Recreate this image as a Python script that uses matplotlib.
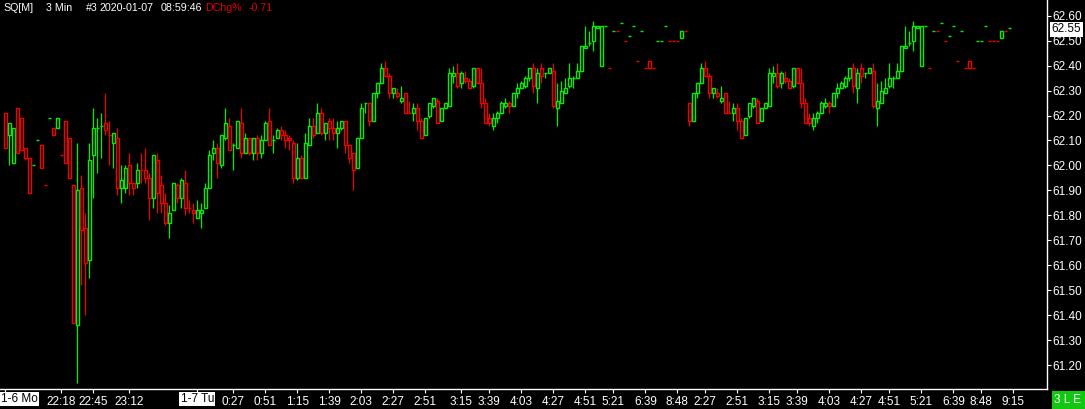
import matplotlib.pyplot as plt
from matplotlib.patches import Rectangle
from matplotlib.transforms import blended_transform_factory

plt.rcParams['font.family'] = ['Liberation Sans', 'DejaVu Sans']

# 3 min bars, (open, high, low, close)
part_one = [
    (62.21, 62.21, 62.07, 62.07), (62.12, 62.17, 62.00, 62.17), (62.01, 62.15, 62.01, 62.15),
    (62.23, 62.23, 62.05, 62.05), (62.19, 62.19, 62.06, 62.06), (62.07, 62.07, 62.02, 62.03),
    (62.03, 62.03, 61.89, 61.89), (62.00, 62.00, 62.00, 62.00), (62.10, 62.10, 62.10, 62.10),
    (62.08, 62.08, 61.99, 61.99), (61.92, 61.92, 61.92, 61.92), (62.19, 62.19, 62.19, 62.19),
    (62.15, 62.15, 62.12, 62.12), (62.15, 62.19, 62.15, 62.19), (62.04, 62.04, 62.04, 62.04),
    (62.18, 62.18, 62.01, 62.01), (62.11, 62.11, 61.95, 61.95), (61.92, 61.92, 61.37, 61.37),
    (61.36, 62.09, 61.13, 61.90), (61.91, 61.96, 61.52, 61.74), (61.75, 61.81, 61.40, 61.61),
    (61.62, 62.09, 61.55, 62.02), (62.04, 62.23, 61.87, 62.15), (62.15, 62.19, 61.97, 62.15),
    (62.16, 62.21, 62.03, 62.16), (62.17, 62.29, 62.12, 62.14), (62.12, 62.18, 62.00, 62.12),
    (62.09, 62.13, 61.99, 62.13), (62.11, 62.15, 61.88, 61.91), (61.91, 62.00, 61.85, 61.94),
    (61.91, 62.00, 61.89, 61.99), (62.00, 62.05, 61.88, 61.93), (61.93, 61.93, 61.88, 61.91),
    (61.93, 62.01, 61.91, 61.98), (61.98, 62.05, 61.93, 61.98), (61.98, 62.07, 61.93, 61.95),
    (61.95, 61.97, 61.78, 61.87), (61.87, 62.04, 61.83, 62.04), (62.02, 62.05, 61.81, 61.89),
    (61.92, 61.96, 61.81, 61.85), (61.85, 61.89, 61.76, 61.77), (61.77, 61.84, 61.71, 61.81),
    (61.82, 61.93, 61.82, 61.93), (61.92, 61.93, 61.85, 61.87), (61.87, 61.95, 61.83, 61.94),
    (61.93, 61.98, 61.80, 61.83), (61.83, 61.86, 61.81, 61.83), (61.82, 61.85, 61.77, 61.81),
    (61.79, 61.86, 61.79, 61.82), (61.81, 61.85, 61.75, 61.82), (61.83, 61.93, 61.83, 61.91),
    (61.91, 62.06, 61.91, 62.04), (62.05, 62.10, 62.02, 62.07), (62.07, 62.09, 61.95, 62.01),
    (62.00, 62.12, 61.99, 62.12), (62.11, 62.23, 62.10, 62.17), (62.16, 62.19, 62.06, 62.06),
    (62.08, 62.09, 61.98, 62.08), (62.07, 62.18, 62.07, 62.18), (62.17, 62.23, 62.03, 62.05),
    (62.05, 62.13, 62.05, 62.11), (62.11, 62.11, 62.04, 62.05), (62.05, 62.11, 62.02, 62.11),
    (62.11, 62.12, 62.02, 62.05), (62.05, 62.12, 62.03, 62.10), (62.10, 62.18, 62.10, 62.17),
    (62.18, 62.23, 62.08, 62.08), (62.10, 62.12, 62.05, 62.10), (62.11, 62.15, 62.11, 62.14),
    (62.14, 62.16, 62.10, 62.12), (62.12, 62.14, 62.07, 62.10), (62.11, 62.12, 62.06, 62.10),
    (62.09, 62.10, 61.93, 61.95), (61.95, 62.09, 61.94, 62.03), (62.03, 62.04, 61.95, 61.95),
    (61.95, 62.13, 61.95, 62.09), (62.08, 62.19, 62.08, 62.16), (62.16, 62.19, 62.11, 62.12),
    (62.13, 62.25, 62.13, 62.21), (62.21, 62.23, 62.12, 62.13), (62.13, 62.17, 62.10, 62.17),
    (62.18, 62.19, 62.10, 62.15), (62.15, 62.19, 62.10, 62.13), (62.13, 62.18, 62.07, 62.15),
    (62.15, 62.18, 62.14, 62.18), (62.18, 62.18, 62.05, 62.08), (62.08, 62.08, 62.01, 62.03),
    (62.05, 62.05, 61.90, 61.98), (61.99, 62.11, 61.99, 62.11), (62.11, 62.25, 62.11, 62.23),
    (62.25, 62.25, 62.21, 62.25),
]
part_one_colors = ("rggrrrrggr" "rgrgrrrrgr" "rggggrrgrg" "grrgrrrgrr" "rggrgrrrgg"
                   "gggrggrggr" "grgrggrggr" "rrrgrggrgr" "grrggrrrggg")

# this stretch shows up twice on the chart (the feed repeated it)
repeated = [
    (62.25, 62.25, 62.16, 62.18), (62.18, 62.29, 62.18, 62.29), (62.29, 62.33, 62.27, 62.33),
    (62.33, 62.41, 62.33, 62.39), (62.39, 62.42, 62.36, 62.36), (62.36, 62.37, 62.27, 62.29),
    (62.29, 62.31, 62.27, 62.31), (62.29, 62.31, 62.27, 62.28), (62.26, 62.32, 62.25, 62.27),
    (62.29, 62.29, 62.21, 62.21), (62.21, 62.26, 62.21, 62.21), (62.21, 62.25, 62.18, 62.23),
    (62.23, 62.25, 62.14, 62.18), (62.18, 62.19, 62.11, 62.11), (62.12, 62.19, 62.12, 62.19),
    (62.20, 62.25, 62.19, 62.25), (62.24, 62.27, 62.23, 62.27), (62.26, 62.27, 62.17, 62.17),
    (62.18, 62.23, 62.18, 62.23), (62.23, 62.25, 62.23, 62.25), (62.24, 62.39, 62.24, 62.37),
    (62.36, 62.40, 62.33, 62.37), (62.37, 62.41, 62.31, 62.32), (62.33, 62.38, 62.31, 62.37),
    (62.35, 62.38, 62.33, 62.34), (62.34, 62.35, 62.31, 62.31), (62.32, 62.39, 62.31, 62.39),
    (62.39, 62.39, 62.33, 62.33), (62.33, 62.39, 62.23, 62.25), (62.25, 62.27, 62.17, 62.17),
    (62.19, 62.21, 62.16, 62.17), (62.16, 62.21, 62.14, 62.19), (62.19, 62.22, 62.17, 62.21),
    (62.21, 62.26, 62.21, 62.25), (62.24, 62.27, 62.23, 62.25), (62.25, 62.26, 62.21, 62.24),
    (62.24, 62.29, 62.24, 62.29), (62.29, 62.33, 62.27, 62.31), (62.31, 62.34, 62.31, 62.33),
    (62.32, 62.36, 62.31, 62.35), (62.35, 62.39, 62.34, 62.39), (62.39, 62.41, 62.29, 62.32),
    (62.31, 62.39, 62.25, 62.37), (62.39, 62.41, 62.33, 62.36), (62.37, 62.37, 62.35, 62.37),
    (62.37, 62.39, 62.37, 62.39), (62.38, 62.41, 62.23, 62.24), (62.23, 62.33, 62.16, 62.26),
    (62.25, 62.34, 62.25, 62.30), (62.29, 62.35, 62.29, 62.31), (62.32, 62.41, 62.31, 62.35),
    (62.35, 62.36, 62.31, 62.35), (62.35, 62.41, 62.35, 62.38), (62.38, 62.48, 62.38, 62.48),
    (62.47, 62.56, 62.47, 62.48), (62.49, 62.54, 62.48, 62.49), (62.50, 62.58, 62.46, 62.56),
    (62.55, 62.56, 62.55, 62.56), (62.40, 62.56, 62.40, 62.56), (62.56, 62.56, 62.56, 62.56),
    (62.39, 62.39, 62.39, 62.39), (62.54, 62.54, 62.54, 62.54), (62.54, 62.54, 62.54, 62.54),
    (62.57, 62.57, 62.57, 62.57), (62.50, 62.50, 62.50, 62.50), (62.52, 62.52, 62.52, 62.52),
    (62.56, 62.56, 62.56, 62.56), (62.42, 62.42, 62.42, 62.42), (62.54, 62.54, 62.54, 62.54),
    (62.39, 62.39, 62.39, 62.39), (62.42, 62.42, 62.39, 62.39), (62.39, 62.39, 62.39, 62.39),
    (62.50, 62.50, 62.50, 62.50), (62.50, 62.50, 62.50, 62.50), (62.56, 62.56, 62.56, 62.56),
    (62.50, 62.50, 62.50, 62.50), (62.50, 62.50, 62.50, 62.50), (62.50, 62.50, 62.50, 62.50),
    (62.51, 62.54, 62.51, 62.54), (62.54, 62.54, 62.54, 62.54),
]
repeated_colors = ("rgggrrgrgr" "rgrrgggrgg" "ggrgrrgrrr" "rggggrgggg"
                   "grgrggrggg" "gggggggggg" "rgrgrggrgr" "rrgggrrrgr")

last_bar = [(62.55, 62.55, 62.55, 62.55)]
last_color = "g"

price_ticks = [61.2, 61.3, 61.4, 61.5, 61.6, 61.7, 61.8, 61.9,
               62.0, 62.1, 62.2, 62.3, 62.4, 62.5, 62.6]
time_ticks = [14, 22, 31, 57, 65, 73, 81, 89, 97, 105, 114, 121, 129, 137,
              145, 152, 160, 168, 175, 183, 191, 198, 206, 214, 221, 229,
              237, 244, 252]
time_labels = ['22:18', '22:45', '23:12', '0:27', '0:51', '1:15', '1:39', '2:03',
               '2:27', '2:51', '3:15', '3:39', '4:03', '4:27', '4:51', '5:21',
               '6:39', '8:48', '2:27', '2:51', '3:15', '3:39', '4:03', '4:27',
               '4:51', '5:21', '6:39', '8:48', '9:15']
day_ticks = [0, 48]
day_labels = ['1-6 Mo', '1-7 Tu']
last_price = '62.55'

GREEN = '#00f000'
RED = '#f00000'
FS = 8.5

bars = part_one + repeated + repeated + last_bar
colors = part_one_colors + repeated_colors + repeated_colors + last_color

W, H = 1085, 409
fig = plt.figure(figsize=(W / 100, H / 100), dpi=100, facecolor='black')
ax = fig.add_axes([0, 20 / H, 1047 / W, 389 / H], facecolor='black')

for i, ((o, h, l, c), col) in enumerate(zip(bars, colors)):
    col = GREEN if col == 'g' else RED
    ax.vlines(i, l, h, color=col, lw=0.9, zorder=1)
    ax.add_patch(Rectangle((i - 0.36, min(o, c)), 0.72, abs(c - o),
                           facecolor='black', edgecolor=col, lw=1.0, zorder=2))

ax.set_xlim(-1.325, 260.4)
ax.set_ylim(61.104, 62.663)

for s in ['top', 'left']:
    ax.spines[s].set_visible(False)
for s in ['right', 'bottom']:
    ax.spines[s].set_color('white')
    ax.spines[s].set_linewidth(1)

ax.yaxis.tick_right()
ax.set_yticks(price_ticks)
ax.set_yticklabels(['%.2f' % p for p in price_ticks])
ax.tick_params(axis='y', colors='white', length=3, width=0.8, labelsize=FS, pad=1)

ax.set_xticks(day_ticks + time_ticks)
ax.set_xticklabels([''] * len(day_ticks) + time_labels)
ax.tick_params(axis='x', colors='white', length=3, width=0.8, labelsize=FS, pad=2)

# date labels in white boxes
fig.text(1 / W, 1 - 399 / H, day_labels[0], color='black', fontsize=FS, va='center',
         ha='left', bbox=dict(facecolor='white', edgecolor='none', pad=1))
trans = blended_transform_factory(ax.transData, fig.transFigure)
ax.text(day_ticks[1], 1 - 399 / H, day_labels[1], transform=trans, color='black',
        fontsize=FS, va='center', ha='center',
        bbox=dict(facecolor='white', edgecolor='none', pad=1))

# current price marker
ytrans = blended_transform_factory(ax.transAxes, ax.transData)
ax.text(1.0045, 62.545, last_price, transform=ytrans, color='black', fontsize=FS,
        va='center', ha='left', bbox=dict(facecolor='white', edgecolor='none', pad=1))

# header, each piece placed where it sits on the original
header = [(3, 'SQ[M]', 'white'), (46, '3 Min', 'white'), (86, '#3', 'white'),
          (100, '2020-01-07', 'white'), (161, '08:59:46', 'white'),
          (205, 'DChg%:', '#e00000'), (249, '-0.71', '#e00000')]
for x, txt, col in header:
    fig.text(x / W, 1 - 8 / H, txt, color=col, fontsize=7.7, va='center')

# status box bottom right
fig.patches.append(Rectangle((1052 / W, 0), 33 / W, 18 / H, transform=fig.transFigure,
                             facecolor='#10c810', edgecolor='none'))
fig.text(1068 / W, 9 / H, '3 L E', color='white', fontsize=FS, va='center', ha='center')

fig.savefig('out.png', dpi=100, facecolor='black')
